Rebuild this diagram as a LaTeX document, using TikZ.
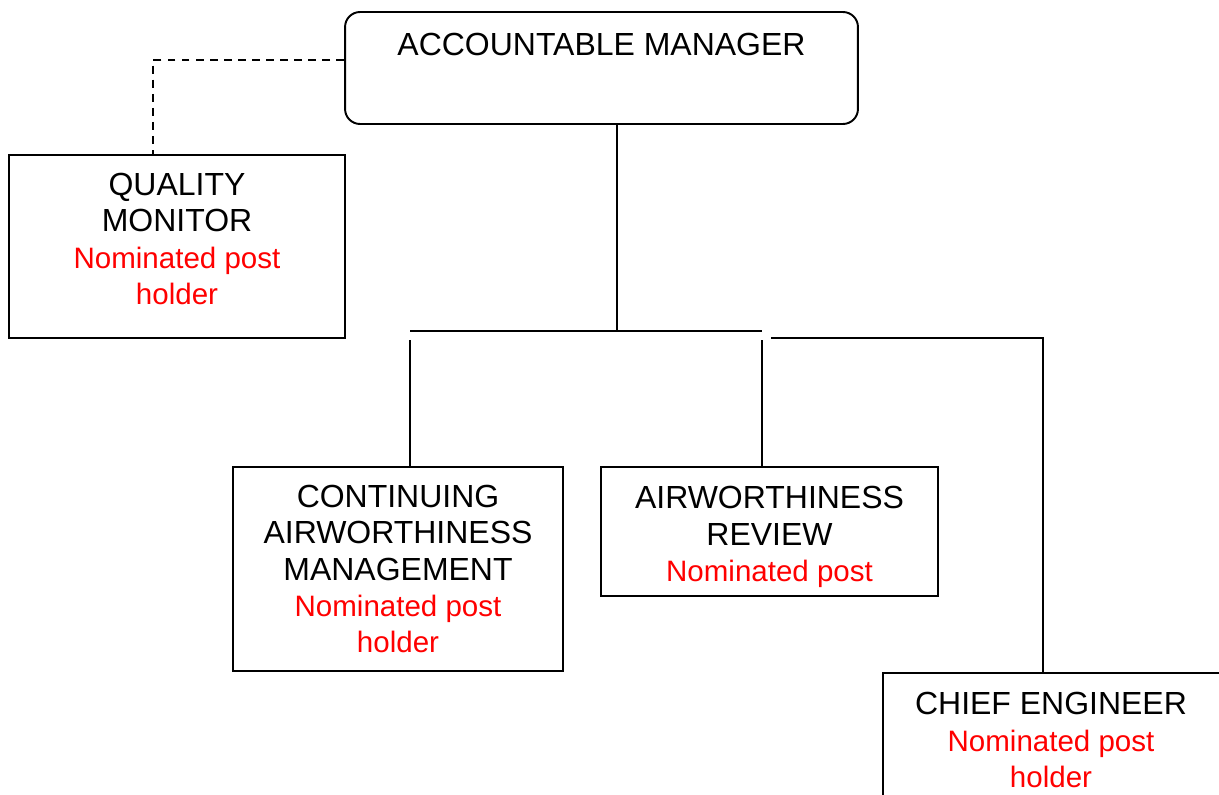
\documentclass[tikz,border=0pt]{standalone}
\usepackage{fontspec}
\setmainfont{Liberation Sans}
\usepackage{tikz}
\newcommand{\npost}[1]{{\fontsize{16.8}{20.7}\selectfont\textcolor{red}{#1}}}

\begin{document}
\begin{tikzpicture}[x=0.02cm,y=-0.02cm]
\tikzstyle{every node}=[font=\fontsize{18.2}{20.7}\selectfont,align=center,inner sep=0pt];
\tikzstyle{post}=[draw,line width=1.1pt];
\tikzstyle{link}=[line width=1.1pt];
\useasboundingbox (0,0) rectangle (1219,794);
% boxes
\node[post,rounded corners=0.3cm,minimum width=10.26cm,minimum height=2.24cm] (am) at (601.5,68) {};
\node[anchor=north] (amtext) at (601.5,33) {ACCOUNTABLE MANAGER};
\node[post,minimum width=6.72cm,minimum height=3.66cm] (qm) at (177,246.5) {};
\node (qmtext) at (177,239) {QUALITY\\MONITOR\\\npost{Nominated post}\\\npost{holder}};
\node[post,minimum width=6.6cm,minimum height=4.08cm] (cam) at (398,569)
	{CONTINUING\\AIRWORTHINESS\\MANAGEMENT\\\npost{Nominated post}\\\npost{holder}};
\node[post,minimum width=6.74cm,minimum height=2.58cm] (ar) at (769.5,531.5) {};
\node (artext) at (769.5,537) {AIRWORTHINESS\\REVIEW\\\npost{Nominated post}};
\node[post,minimum width=6.9cm,minimum height=2.6cm] (ce) at (1055,738) {};
\node (cetext) at (1051,740) {CHIEF ENGINEER\\\npost{Nominated post}\\\npost{holder}};
% connectors
\coordinate (dq) at (153,60);
\coordinate (hub) at (617,331);
\coordinate (bl) at (410,331);
\coordinate (br) at (762,331);
\coordinate (cl) at (410,340);
\coordinate (cr) at (762,340);
\coordinate (ct) at (771,338);
\coordinate (cc) at (1043,338);
\draw[link,dash pattern=on 4.5pt off 3.5pt] (dq -| am.west) -- (dq) -- (qm.north -| dq);
\draw[link] (am.south -| hub) -- (hub);
\draw[link] (bl) -- (br);
\draw[link] (cl) -- (cam.north -| cl);
\draw[link] (cr) -- (ar.north -| cr);
\draw[link] (ct) -- (cc) -- (ce.north -| cc);
\end{tikzpicture}
\end{document}
